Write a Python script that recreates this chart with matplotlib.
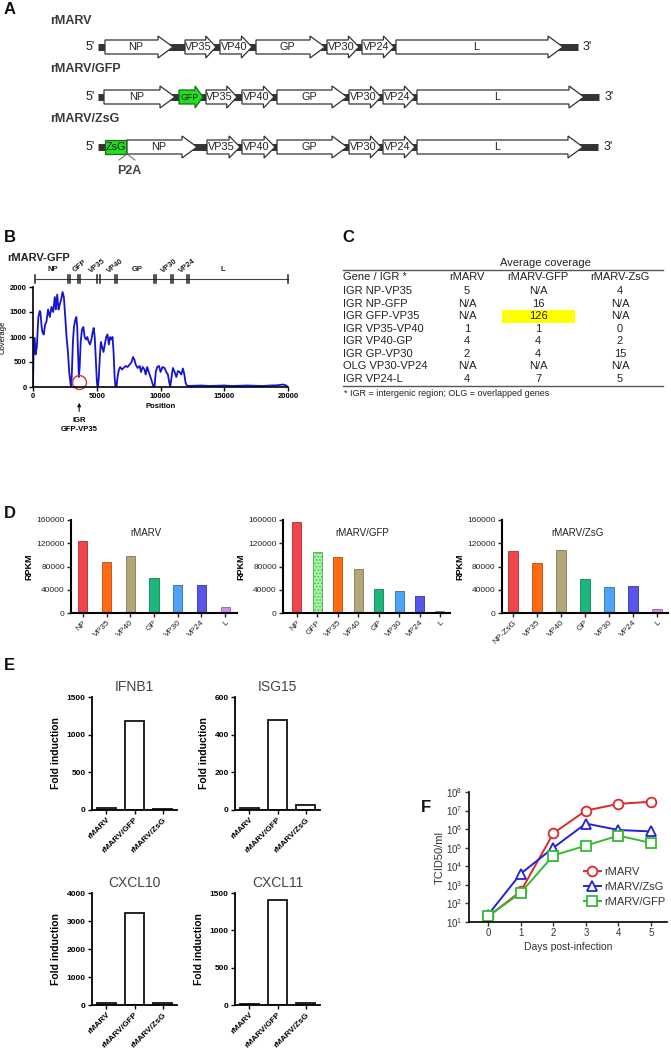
import matplotlib
matplotlib.use('Agg')
import matplotlib.pyplot as plt
from matplotlib.patches import Polygon, Rectangle
from matplotlib import font_manager

plt.rcParams['font.family'] = ['Liberation Sans', 'DejaVu Sans']
plt.rcParams['hatch.linewidth'] = 0.6
_names = {f.name for f in font_manager.fontManager.ttflist}
HAS_NARROW = 'Liberation Sans Narrow' in _names
NARROW = (['Liberation Sans Narrow'] if HAS_NARROW else []) + ['Liberation Sans', 'DejaVu Sans']

# ------------------------------------------------------------------ data
genome_names = ['rMARV', 'rMARV/GFP', 'rMARV/ZsG']
genes_rmarv = ['NP', 'VP35', 'VP40', 'GP', 'VP30', 'VP24', 'L']
genes_gfp = ['NP', 'GFP', 'VP35', 'VP40', 'GP', 'VP30', 'VP24', 'L']
genes_zsg = ['ZsG', 'NP', 'VP35', 'VP40', 'GP', 'VP30', 'VP24', 'L']

cov_pos = [0, 60, 130, 200, 300, 420, 530, 580, 680, 740, 840, 950, 1050, 1180,
           1316, 1450, 1580, 1710, 1790, 1900, 2000, 2100, 2210, 2320, 2420, 2530,
           2630, 2740, 2840, 2950, 3000, 3050, 3130, 3210, 3320, 3400, 3470, 3530,
           3600, 3660, 3740, 3840, 3950, 4050, 4160, 4260, 4370, 4470, 4580, 4680,
           4760, 4840, 4920, 5000, 5050, 5100, 5160, 5240, 5320, 5420, 5530, 5630,
           5740, 5840, 5950, 6050, 6160, 6240, 6320, 6400, 6470, 6550, 6630, 6740,
           6840, 6970, 7100, 7260, 7420, 7580, 7740, 7840, 7950, 8050, 8210, 8370,
           8470, 8600, 8740, 8840, 8950, 9080, 9210, 9340, 9450, 9530, 9630, 9740,
           9890, 10000, 10160, 10320, 10450, 10580, 10680, 10760, 10870, 10970,
           11110, 11240, 11370, 11500, 11630, 11760, 11870, 11970, 12100, 12600,
           13200, 13800, 14400, 15000, 15600, 16200, 16800, 17400, 18000, 18600,
           19200, 19600, 19870, 19950]
cov_val = [0, 950, 980, 650, 800, 1400, 1520, 1500, 1200, 1100, 1050, 1250, 1300, 1550,
           1400, 1600, 1500, 1800, 1550, 1850, 1550, 1650, 1750, 1900, 1800, 1400,
           1000, 700, 300, 50, 0, 300, 900, 1200, 1350, 1400, 1200, 700,
           200, 400, 900, 1150, 1200, 1000, 950, 1000, 900, 850, 950, 1100,
           1180, 1000, 600, 150, 0, 0, 200, 600, 900, 800, 700, 850,
           1000, 1050, 850, 1000, 950, 1000, 700, 200, 0, 0, 200, 350,
           400, 350, 380, 420, 400, 450, 500, 600, 550, 450, 380, 420,
           300, 400, 350, 250, 400, 300, 200, 100, 0, 0, 300, 400,
           420, 300, 400, 380, 300, 250, 100, 0, 200, 380,
           300, 200, 320, 300, 250, 370, 250, 80, 20, 25,
           30, 20, 25, 30, 20, 25, 30, 25, 20, 30,
           35, 50, 30, 0]
track_bounds = [184, 2710, 2890, 3500, 3684, 5050, 5240, 6400, 6580, 9470,
                9680, 10790, 10970, 12100, 12240, 20000]
track_labels = ['NP', 'GFP', 'VP35', 'VP40', 'GP', 'VP30', 'VP24', 'L']
track_label_pos = [1530, 3700, 5050, 6450, 8150, 10700, 12150, 14870]
track_label_rot = [0, 38, 38, 38, 0, 38, 38, 0]

table_header = ['Gene / IGR *', 'rMARV', 'rMARV-GFP', 'rMARV-ZsG']
table_regions = ['IGR NP-VP35', 'IGR NP-GFP', 'IGR GFP-VP35', 'IGR VP35-VP40',
                 'IGR VP40-GP', 'IGR GP-VP30', 'OLG VP30-VP24', 'IGR VP24-L']
avgcov_rmarv = ['5', 'N/A', 'N/A', '1', '4', '2', 'N/A', '4']
avgcov_gfp = ['N/A', '16', '126', '1', '4', '4', 'N/A', '7']
avgcov_zsg = ['4', 'N/A', 'N/A', '0', '2', '15', 'N/A', '5']

rpkm_genes_rmarv = ['NP', 'VP35', 'VP40', 'GP', 'VP30', 'VP24', 'L']
rpkm_rmarv = [124000, 88000, 98000, 61000, 48500, 48500, 10000]
rpkm_genes_gfp = ['NP', 'GFP', 'VP35', 'VP40', 'GP', 'VP30', 'VP24', 'L']
rpkm_gfp = [157000, 105000, 96000, 76000, 41000, 37000, 30000, 3000]
rpkm_genes_zsg = ['NP-ZsG', 'VP35', 'VP40', 'GP', 'VP30', 'VP24', 'L']
rpkm_zsg = [106000, 86500, 109000, 59000, 44000, 46000, 6500]

viruses = ['rMARV', 'rMARV/GFP', 'rMARV/ZsG']
fold_ifnb1 = [25, 1180, 8]
fold_isg15 = [12, 480, 28]
fold_cxcl10 = [80, 3280, 75]
fold_cxcl11 = [12, 1405, 22]

days = [0, 1, 2, 3, 4, 5]
titer_rmarv = [20, 450, 6e5, 1e7, 2.3e7, 3e7]
titer_zsg = [25, 4000, 1e5, 2e6, 9e5, 7.5e5]
titer_gfp = [20, 380, 3.8e4, 1.3e5, 4.5e5, 1.8e5]

# ------------------------------------------------------------------ styles / layout
gene_colors = {'NP': '#f0454b', 'NP-ZsG': '#f0454b', 'GFP': '#a6f2a6', 'VP35': '#ff6a12',
               'VP40': '#b3a77a', 'GP': '#1cb87b', 'VP30': '#4ea3f6', 'VP24': '#5656ec',
               'L': '#cf8ee9'}
gene_edges = {'NP': '#b02a2e', 'NP-ZsG': '#b02a2e', 'GFP': '#44b044', 'VP35': '#b84a08',
              'VP40': '#807650', 'GP': '#108050', 'VP30': '#2e70b0', 'VP24': '#3232a8',
              'L': '#9560a8'}

W, H = 671, 1048
fig = plt.figure(figsize=(W / 100, H / 100), dpi=100)


def ax_px(l, t, r, b):
    return fig.add_axes([l / W, 1 - b / H, (r - l) / W, (b - t) / H])


bg = fig.add_axes([0, 0, 1, 1])
bg.set_xlim(0, W)
bg.set_ylim(H, 0)
bg.axis('off')

LETTER = dict(fontsize=12, fontweight='bold', ha='left', va='center', color='#111')
for letter, (lx, ly) in zip('ABCDEF', [(4, 10), (4, 237), (342, 237), (4, 513), (4, 665), (421, 808)]):
    bg.text(lx, ly, letter, **LETTER)

# ------------------------------------------------------------------ panel A
row_y = [47, 97, 147]
title_y = [21, 69, 119]
row_span = [(98, 578), (98, 599), (98, 598)]
row_ends = [(95, 583), (95, 605), (95, 604)]
row_genes = [genes_rmarv, genes_gfp, genes_zsg]
row_x = [
    [(105, 173), (185, 216), (220, 252), (256, 325), (327, 359), (362, 394), (396, 563)],
    [(104, 175), (179, 203), (206, 237), (242, 274), (277, 347), (349, 381), (383, 415), (417, 584)],
    [(105, 127), (127, 197), (207, 240), (242, 275), (277, 347), (349, 381), (383, 415), (417, 583)],
]
GENE_FS = 9.5 if HAS_NARROW else 7.8


def gene_arrow(x0, x1, yc, label, fc='white', ec='#333333', box=False, fs=GENE_FS):
    hb, hh = 7, 11
    if box:
        poly = [(x0, yc - hb), (x1, yc - hb), (x1, yc + hb), (x0, yc + hb)]
        tx = (x0 + x1) / 2
    else:
        hl = min(15, 0.33 * (x1 - x0))
        xb = x1 - hl
        poly = [(x0, yc - hb), (xb, yc - hb), (xb, yc - hh), (x1, yc), (xb, yc + hh),
                (xb, yc + hb), (x0, yc + hb)]
        tx = (x0 + xb) / 2 + hl * 0.3
    bg.add_patch(Polygon(poly, closed=True, fc=fc, ec=ec, lw=0.9, zorder=3))
    bg.text(tx, yc + 0.5, label, ha='center', va='center', fontsize=fs,
            family=NARROW, zorder=4, color='#222')


for i in range(3):
    yc = row_y[i]
    bg.text(50, title_y[i], genome_names[i], fontsize=11 if HAS_NARROW else 9,
            fontweight='bold', family=NARROW, color='#3a3a3a', ha='left', va='center')
    bg.plot(row_span[i], [yc, yc], color='#333333', lw=5, solid_capstyle='butt', zorder=2)
    bg.text(row_ends[i][0], yc, "5'", fontsize=9, family=NARROW, ha='right', va='center', color='#222')
    bg.text(row_ends[i][1], yc, "3'", fontsize=9, family=NARROW, ha='left', va='center', color='#222')
    for g, (x0, x1) in zip(row_genes[i], row_x[i]):
        if g == 'GFP':
            gene_arrow(x0, x1, yc, g, fc='#22dd22', ec='#1a6a1a', fs=GENE_FS - 1.5)
        elif g == 'ZsG':
            gene_arrow(x0, x1, yc, g, fc='#22dd22', ec='#1a6a1a', box=True)
        else:
            gene_arrow(x0, x1, yc, g)

# P2A marker
bx = row_x[2][1][0]
yb = row_y[2] + 7
bg.plot([bx - 8, bx, bx + 8], [yb + 6, yb, yb + 6], color='#666', lw=0.7, zorder=5)
bg.text(bx + 2, 171, 'P2A', fontsize=9, fontweight='bold', color='#444',
        ha='center', va='center')

# ------------------------------------------------------------------ panel B
bg.text(7, 258, 'rMARV-GFP', fontsize=8, fontweight='bold', color='#222', ha='left', va='center')
axB = ax_px(33, 287, 288, 387)
axB.plot(cov_pos, cov_val, color='#1515d0', lw=1.3)
axB.set_xlim(0, 20000)
axB.set_ylim(0, 2000)
axB.set_xticks([0, 5000, 10000, 15000, 20000])
axB.set_yticks([0, 500, 1000, 1500, 2000])
for s in ['top', 'right']:
    axB.spines[s].set_visible(False)
for s in ['left', 'bottom']:
    axB.spines[s].set_linewidth(1.2)
axB.tick_params(labelsize=5.5, length=3, width=1, pad=1.5)
for t in axB.get_xticklabels() + axB.get_yticklabels():
    t.set_fontweight('bold')
axB.set_ylabel('Coverage', fontsize=5.5, labelpad=2)
axB.set_xlabel('Position', fontsize=5.5, fontweight='bold', labelpad=2)

track_y = 2160
axB.plot([track_bounds[0], track_bounds[-1]], [track_y, track_y], color='#444', lw=0.8, clip_on=False)
for b in track_bounds:
    axB.plot([b, b], [track_y - 75, track_y + 75], color='#222', lw=1.1, clip_on=False)
for lab, xp, rot in zip(track_labels, track_label_pos, track_label_rot):
    yy = track_y + (120 if rot == 0 else 250)
    axB.text(xp, yy, lab, fontsize=5.5, fontweight='bold', rotation=rot, ha='center',
             va='bottom' if rot == 0 else 'center', color='#222', clip_on=False)
axB.plot([3620], [100], marker='o', ms=10, mfc='none', mec='#e03030', mew=1.0, clip_on=False)
axB.annotate('IGR\nGFP-VP35', xy=(3620, -260), xytext=(3620, -600), xycoords='data',
             textcoords='data', ha='center', va='top', fontsize=5.5, fontweight='bold',
             annotation_clip=False, linespacing=1.45,
             arrowprops=dict(arrowstyle='-|>', color='#111', lw=0.8, mutation_scale=5))

# ------------------------------------------------------------------ panel C
TC = dict(fontsize=8, color='#222', va='center')
col_x = [343, 467, 538, 620]
bg.text(545, 263, 'Average coverage', ha='center', **TC)
bg.plot([343, 663], [270, 270], color='#555', lw=1.0)
for j, h in enumerate(table_header):
    bg.text(col_x[j], 277.5, h, ha='left' if j == 0 else 'center', **TC)
row_h = 12.55
for i, reg in enumerate(table_regions):
    yy = 291 + i * row_h
    if avgcov_gfp[i] == '126':
        bg.add_patch(Rectangle((502, yy - 6.5), 73, 13, fc='#ffff00', ec='none', zorder=1))
    bg.text(col_x[0], yy, reg, ha='left', zorder=3, **TC)
    bg.text(col_x[1], yy, avgcov_rmarv[i], ha='center', zorder=3, **TC)
    bg.text(col_x[2], yy, avgcov_gfp[i], ha='center', zorder=3, **TC)
    bg.text(col_x[3], yy, avgcov_zsg[i], ha='center', zorder=3, **TC)
bg.plot([343, 663], [385.5, 385.5], color='#555', lw=1.0)
bg.text(344, 393, '* IGR = intergenic region; OLG = overlapped genes', ha='left',
        fontsize=6.5, color='#222', va='center')

# ------------------------------------------------------------------ panel D
def rpkm_panel(box, xlim, genes, vals, title, width, title_x):
    ax = ax_px(*box)
    for k, (g, v) in enumerate(zip(genes, vals)):
        if g == 'GFP':
            ax.bar(k, v, width=width, color=gene_colors[g], edgecolor=gene_edges[g],
                   hatch='.....', lw=0.6)
        else:
            ax.bar(k, v, width=width, color=gene_colors[g], edgecolor=gene_edges[g], lw=0.6)
    ax.set_xlim(*xlim)
    ax.set_ylim(0, 160000)
    ax.set_yticks([0, 40000, 80000, 120000, 160000])
    ax.set_xticks(range(len(genes)))
    ax.set_xticklabels(genes, rotation=45, ha='right', rotation_mode='anchor')
    for s in ['top', 'right']:
        ax.spines[s].set_visible(False)
    for s in ['left', 'bottom']:
        ax.spines[s].set_linewidth(1.5)
    ax.tick_params(labelsize=6, length=3, width=1, pad=1.5, colors='#222')
    ax.set_ylabel('RPKM', fontsize=6.5, fontweight='bold', labelpad=2)
    l, r = box[0], box[2]
    ax.text((title_x - l) / (r - l), 0.86, title, transform=ax.transAxes, ha='center',
            va='center', fontsize=7, color='#222')
    return ax


rpkm_panel((71, 520, 237, 613), (-0.5, 6.5), rpkm_genes_rmarv, rpkm_rmarv, 'rMARV', 0.39, 146)
rpkm_panel((283, 520, 450, 613), (-0.68, 7.49), rpkm_genes_gfp, rpkm_gfp, 'rMARV/GFP', 0.44, 362)
rpkm_panel((502, 520, 668, 613), (-0.46, 6.46), rpkm_genes_zsg, rpkm_zsg, 'rMARV/ZsG', 0.38, 578)

# ------------------------------------------------------------------ panel E
def fold_panel(box, vals, title, yticks):
    ax = ax_px(*box)
    ax.bar(range(3), vals, width=0.67, color='white', edgecolor='#111', lw=1.3)
    ax.set_xlim(-0.5, 2.5)
    ax.set_ylim(0, yticks[-1])
    ax.set_yticks(yticks)
    ax.set_xticks(range(3))
    ax.set_xticklabels(viruses, rotation=45, ha='right', rotation_mode='anchor')
    for s in ['top', 'right']:
        ax.spines[s].set_visible(False)
    for s in ['left', 'bottom']:
        ax.spines[s].set_linewidth(1.3)
    ax.tick_params(labelsize=6, length=3, width=1, pad=1.5)
    for t in ax.get_xticklabels() + ax.get_yticklabels():
        t.set_fontweight('bold')
    ax.set_ylabel('Fold induction', fontsize=7.5, fontweight='bold', labelpad=4)
    ax.set_title(title, fontsize=10, color='#444', pad=4)
    return ax


fold_panel((92, 697, 177, 810), fold_ifnb1, 'IFNB1', [0, 500, 1000, 1500])
fold_panel((235, 697, 320, 810), fold_isg15, 'ISG15', [0, 200, 400, 600])
fold_panel((92, 893, 177, 1005), fold_cxcl10, 'CXCL10', [0, 1000, 2000, 3000, 4000])
fold_panel((235, 893, 320, 1005), fold_cxcl11, 'CXCL11', [0, 500, 1000, 1500])

# ------------------------------------------------------------------ panel F
axF = ax_px(469, 792, 667, 922)
axF.plot(days, titer_rmarv, color='#e02828', lw=1.4, marker='o', ms=7, mfc='white',
         mew=1.3, label='rMARV')
axF.plot(days, titer_zsg, color='#2222dd', lw=1.4, marker='^', ms=7, mfc='white',
         mew=1.3, label='rMARV/ZsG')
axF.plot(days, titer_gfp, color='#33bb33', lw=1.4, marker='s', ms=6.5, mfc='white',
         mew=1.3, label='rMARV/GFP')
axF.set_yscale('log')
axF.set_ylim(10, 1e8)
axF.set_xlim(-0.59, 5.49)
axF.set_xticks(days)
axF.set_yticks([10 ** k for k in range(1, 9)])
axF.minorticks_off()
for s in ['top', 'right']:
    axF.spines[s].set_visible(False)
for s in ['left', 'bottom']:
    axF.spines[s].set_linewidth(1.2)
axF.tick_params(labelsize=7, length=3, width=1, pad=1.5, colors='#333')
axF.set_ylabel('TCID50/ml', fontsize=8, color='#333', labelpad=1)
axF.set_xlabel('Days post-infection', fontsize=7.5, color='#333', labelpad=3)
axF.legend(loc='upper left', bbox_to_anchor=(584 / W, 1 - 867 / H),
           bbox_transform=fig.transFigure, frameon=False, fontsize=8,
           handlelength=1.5, handletextpad=0.35, labelspacing=0.45, borderaxespad=0,
           borderpad=0, labelcolor='#333')

fig.savefig('out.png', dpi=100)
